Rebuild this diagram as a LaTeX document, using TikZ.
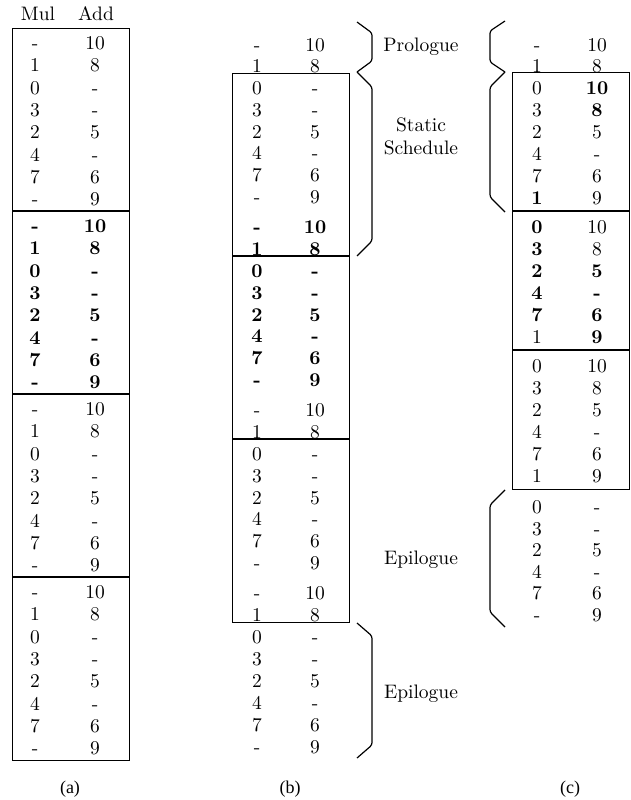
\documentclass[tikz,border=0pt]{standalone}
\usepackage{fontspec}
\setmainfont{lmroman10-regular}[Extension=.otf, BoldFont=lmroman10-bold]
\newfontfamily\capfont{Liberation Serif}
\begin{document}
\begin{tikzpicture}[x=1pt,y=-1pt,
  every node/.style={inner sep=0pt},
  cellt/.style={anchor=base, font=\fontsize{19.5}{22}\selectfont},
  lab/.style={anchor=base, font=\fontsize{19.5}{22}\selectfont},
  captxt/.style={anchor=base, font=\capfont\fontsize{18}{20}\selectfont},
  box/.style={draw, line width=1.3pt},
  brk/.style={line width=1.2pt, rounded corners=2.5pt}]
\useasboundingbox (0,0) rectangle (631,800);

% ---------------- (a) ----------------
\node[lab] (hmul) at (38,21) {Mul};
\node[lab] (hadd) at (96,21) {Add};
\foreach \s in {0,...,3}{
  \foreach \m/\a [count=\k from 0] in {-/10,1/8,0/-,3/-,2/5,4/-,7/6,-/9}{
    \pgfmathsetmacro\yy{28+183*\s+15+22.3*\k+6.5}
    \node[cellt] (a-\s-\k-m) at (35,\yy) {\ifnum\s=1 \bfseries\fi\m};
    \node[cellt] (a-\s-\k-a) at (95,\yy) {\ifnum\s=1 \bfseries\fi\a};
  }
}
\node[box, anchor=north west, minimum width=117pt, minimum height=732pt] (aBox) at (12,28) {};
\foreach \s in {1,2,3}{\draw[line width=1.3pt] (12,28+183*\s) -- (129,28+183*\s);}
\node[captxt] (capa) at (70,793) {(a)};

% ---------------- (b) ----------------
\node[cellt] (bp0m) at (257,45+6.5) {-};
\node[cellt] (bp0a) at (315,45+6.5) {10};
\node[cellt] (bp1m) at (257,66+6.5) {1};
\node[cellt] (bp1a) at (315,66+6.5) {8};
\foreach \s in {0,1,2}{
  \foreach \m/\a [count=\k from 0] in {0/-,3/-,2/5,4/-,7/6,-/9,-/10,1/8}{
    \pgfmathsetmacro\yy{73+183*\s+15+21.8*\k+(\k>5)*8.2+6.5}
    \pgfmathtruncatemacro\bfl{(\s==0 && \k>5) || (\s==1 && \k<6) ? 1 : 0}
    \node[cellt] (b-\s-\k-m) at (257,\yy) {\ifnum\bfl=1 \bfseries\fi\m};
    \node[cellt] (b-\s-\k-a) at (315,\yy) {\ifnum\bfl=1 \bfseries\fi\a};
  }
}
\foreach \m/\a [count=\k from 0] in {0/-,3/-,2/5,4/-,7/6,-/9}{
  \pgfmathsetmacro\yy{637+22*\k+6.5}
  \node[cellt] (be-\k-m) at (257,\yy) {\m};
  \node[cellt] (be-\k-a) at (315,\yy) {\a};
}
\node[box, anchor=north west, minimum width=117pt, minimum height=549pt] (bBox) at (232,73) {};
\foreach \s in {1,2}{\draw[line width=1.3pt] (232,73+183*\s) -- (349,73+183*\s);}
\draw[brk] (357,22) -- (372,33) -- (372,61) -- (357,72);
\draw[brk] (357,72) -- (372,87) -- (372,241) -- (357,256);
\draw[brk] (357,623) -- (372,636) -- (372,745) -- (357,758);
\node[captxt] (capb) at (290,793) {(b)};

% ---------------- labels ----------------
\node[lab] (lpro) at (421,45+6.5) {Prologue};
\node[lab] (lsta) at (421,125+6.5) {Static};
\node[lab] (lsch) at (421,148+6.5) {Schedule};
\node[lab] (lepc) at (421,558+6.5) {Epilogue};
\node[lab] (lepb) at (421,692+6.5) {Epilogue};

% ---------------- (c) ----------------
\node[cellt] (cp0m) at (537,45+6.5) {-};
\node[cellt] (cp0a) at (597,45+6.5) {10};
\node[cellt] (cp1m) at (537,66+6.5) {1};
\node[cellt] (cp1a) at (597,66+6.5) {8};
\foreach \s in {0,1,2}{
  \foreach \m/\a [count=\k from 0] in {0/10,3/8,2/5,4/-,7/6,1/9}{
    \pgfmathsetmacro\yy{72+139*\s+16+22*\k+6.5}
    \pgfmathtruncatemacro\bm{(\s==0 && \k==5) || (\s==1 && \k<5) ? 1 : 0}
    \pgfmathtruncatemacro\ba{(\s==0 && \k<2) || (\s==1 && \k>1) ? 1 : 0}
    \node[cellt] (c-\s-\k-m) at (537,\yy) {\ifnum\bm=1 \bfseries\fi\m};
    \node[cellt] (c-\s-\k-a) at (597,\yy) {\ifnum\ba=1 \bfseries\fi\a};
  }
}
\foreach \m/\a [count=\k from 0] in {0/-,3/-,2/5,4/-,7/6,-/9}{
  \pgfmathsetmacro\yy{507+21.6*\k+6.5}
  \node[cellt] (ce-\k-m) at (537,\yy) {\m};
  \node[cellt] (ce-\k-a) at (597,\yy) {\a};
}
\node[box, anchor=north west, minimum width=117pt, minimum height=417pt] (cBox) at (512,72) {};
\foreach \s in {1,2}{\draw[line width=1.3pt] (512,72+139*\s) -- (629,72+139*\s);}
\draw[brk] (505,21) -- (490,31) -- (490,62) -- (505,72);
\draw[brk] (505,72) -- (490,87) -- (490,197) -- (505,212);
\draw[brk] (505,490) -- (490,505) -- (490,612) -- (505,627);
\node[captxt] (capc) at (570,793) {(c)};
\end{tikzpicture}
\end{document}
